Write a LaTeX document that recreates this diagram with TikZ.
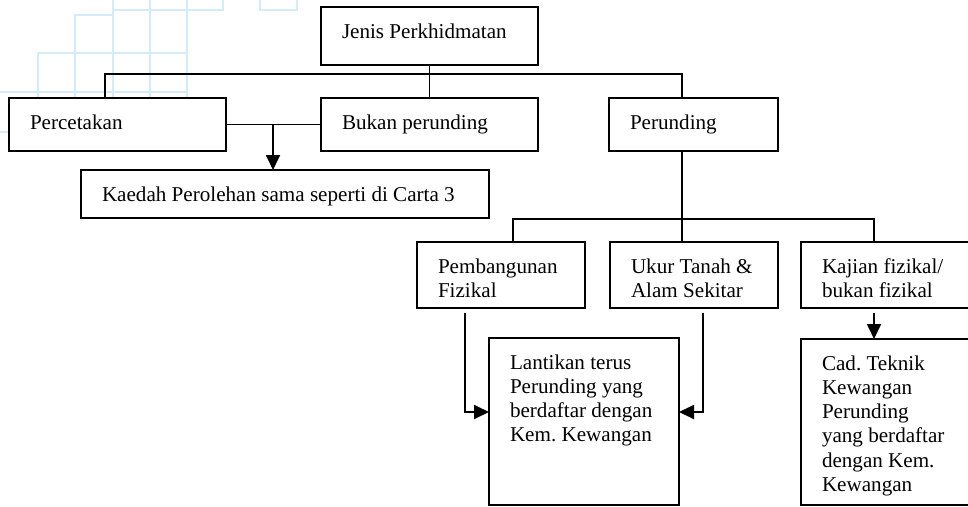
\documentclass[tikz,border=0pt]{standalone}
\usepackage{fontspec}
\setmainfont{Liberation Serif}
\usetikzlibrary{arrows.meta}
\definecolor{wasser}{RGB}{212,236,248}
\frenchspacing

\begin{document}
\begin{tikzpicture}[
  x=1pt, y=-1pt,
  line width=1.8pt,
  >={Triangle[length=15pt,width=14pt]},
  box/.style={
    draw,
    rectangle,
    fill=white,
    anchor=north west,
    outer sep=0pt,
    align=flush left,
    inner xsep=21pt,
    inner ysep=0pt,
    text height=31pt,
    font=\fontsize{21.1}{24.3}\selectfont
  },
  wm/.style={draw=wasser, line width=2.6pt}
]
\useasboundingbox (0,0) rectangle (968,506);
\clip (0,0) rectangle (968,506);

% watermark squares, top left
\path[wm] (113,-30) rectangle (150,10) (150,-30) rectangle (187,10) (187,-30) rectangle (223,10) (260,-30) rectangle (297,10);
\path[wm] (75,15) rectangle (113,53) (113,10) rectangle (150,53) (150,10) rectangle (187,53);
\path[wm] (38,53) rectangle (75,92) (75,53) rectangle (113,92) (113,53) rectangle (150,92) (150,53) rectangle (187,92);
\path[wm] (-5,92) rectangle (38,132) (38,92) rectangle (75,132) (75,92) rectangle (113,132) (113,92) rectangle (150,132) (150,92) rectangle (187,132);

\node[box,text width=175pt,text depth=27pt] at (321,7) (jenis) {Jenis Perkhidmatan};
\node[box,text width=175pt,text depth=22pt] at (9,98) (percetakan) {Percetakan};
\node[box,text width=175pt,text depth=22pt] at (321,98) (bukan) {Bukan perunding};
\node[box,text width=127pt,text depth=22pt] at (609,98) (perunding) {Perunding};
\node[box,text width=366pt,text depth=17pt] at (81,170) (kaedah) {Kaedah Perolehan sama seperti di Carta 3};
\node[box,text width=126pt,text depth=35pt] at (417,242) (pembangunan) {Pembangunan\\Fizikal};
\node[box,text width=126pt,text depth=35pt] at (610,242) (ukur) {Ukur Tanah \&\\Alam Sekitar};
\node[box,text width=148pt,text depth=35pt] at (801,242) (kajian) {Kajian fizikal/\\bukan fizikal};
\node[box,text width=148pt,text depth=136pt] at (489,338) (lantikan) {Lantikan terus\\Perunding yang\\berdaftar dengan\\Kem. Kewangan};
\node[box,text width=148pt,text depth=135pt] at (801,339) (cad) {Cad. Teknik\\Kewangan\\Perunding\\yang berdaftar\\dengan Kem.\\Kewangan};

\coordinate (j1) at (105,74);
\coordinate (j2) at (682,74);
\coordinate (k1) at (273,124.5);
\coordinate (p0) at (682,219);
\coordinate (p1) at (513,219);
\coordinate (p2) at (874,219);
\coordinate (a1) at (465,412);
\coordinate (a2) at (703,412);

\path[draw] (jenis) -- (bukan);
\path[draw] (percetakan.north -| j1) |- (j2) -- (perunding.north -| j2);
\path[draw] (percetakan) -- (bukan);
\path[draw,->] (k1) -- (kaedah.north -| k1);
\path[draw] (perunding.south -| p0) -- (ukur.north -| p0);
\path[draw] (pembangunan.north -| p1) |- (p2) -- (kajian.north -| p2);
\path[draw,->,shorten <=5pt] (pembangunan.south -| a1) |- (lantikan.west |- a1);
\path[draw,->,shorten <=5pt] (ukur.south -| a2) |- (lantikan.east |- a2);
\path[draw,->,shorten <=5pt] (kajian.south -| p2) -- (cad.north -| p2);
\end{tikzpicture}
\end{document}
